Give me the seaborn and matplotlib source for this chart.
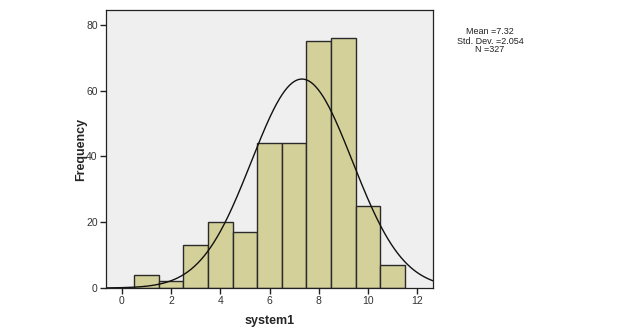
import numpy as np
import pandas as pd
import matplotlib
matplotlib.use("Agg")
import matplotlib.pyplot as plt
import seaborn as sns

bin_centers = [1, 2, 3, 4, 5, 6, 7, 8, 9, 10, 11]
counts = [4, 2, 13, 20, 17, 44, 44, 75, 76, 25, 7]
mean_val = 7.32
sd_val = 2.054
n_val = 327
x_ticks = [0, 2, 4, 6, 8, 10, 12]
y_ticks = [0, 20, 40, 60, 80]

sns.set_style("white")
plt.rcParams['font.family'] = ['Liberation Sans', 'DejaVu Sans']

fig = plt.figure(figsize=(6.2, 3.3), dpi=100)
ax = fig.add_axes([106/620, 42/330, (433-106)/620, (288-10)/330])
ax.set_facecolor("#EFEFEF")

df = pd.DataFrame({"system1": bin_centers, "count": counts})
sns.histplot(data=df, x="system1", weights="count", binwidth=1.0, binrange=(0.5, 11.5),
             color="#D4D09A", edgecolor="#2a2a2a", linewidth=1.0, alpha=1.0, ax=ax)

xs = np.linspace(-0.65, 12.65, 400)
ys = n_val * 1.0 / (sd_val * np.sqrt(2 * np.pi)) * np.exp(-0.5 * ((xs - mean_val) / sd_val) ** 2)
sns.lineplot(x=xs, y=ys, color="#111111", linewidth=1.0, ax=ax)

ax.set_xlim(-0.65, 12.65)
ax.set_ylim(0, 84.5)
ax.set_xticks(x_ticks)
ax.set_yticks(y_ticks)
ax.tick_params(axis="both", bottom=True, left=True, direction="out", length=4, width=1,
               labelsize=7.5, colors="#222222", pad=2)
ax.tick_params(axis="both", labelcolor="#333333")
for s in ax.spines.values():
    s.set_color("#222222")
    s.set_linewidth(0.9)
ax.set_xlabel("system1", fontsize=9, fontweight="bold", labelpad=6)
ax.set_ylabel("Frequency", fontsize=9, fontweight="bold", labelpad=-1)

fig.text(490/620, 1 - 32/330, "Mean =7.32", ha="center", va="center", fontsize=6.5, color="#222222")
fig.text(490/620, 1 - 41/330, "Std. Dev. =2.054", ha="center", va="center", fontsize=6.5, color="#222222")
fig.text(490/620, 1 - 50/330, "N =327", ha="center", va="center", fontsize=6.5, color="#222222")

fig.savefig("out.png", dpi=100)
